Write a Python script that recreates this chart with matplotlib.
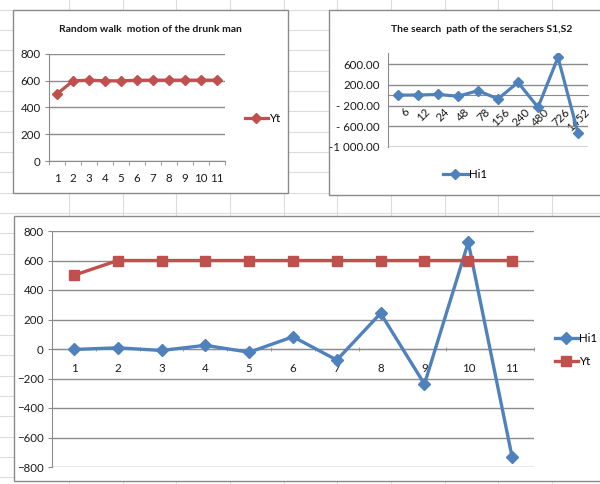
import matplotlib
matplotlib.use("Agg")
import matplotlib.pyplot as plt
import matplotlib.transforms as mtransforms
from matplotlib.lines import Line2D
from matplotlib.patches import Rectangle
from matplotlib.ticker import FixedLocator, NullFormatter

plt.rcParams['font.family'] = ['Lato', 'DejaVu Sans']

# ---- data ----
steps = list(range(1, 12))
yt_walk = [500, 597, 603, 598, 598, 602, 603, 603, 603, 603, 603]
search_labels = ["6", "12", "24", "48", "78", "156", "240", "480", "726", "1452"]
search_hi1 = [2, 3, 15, -20, 88, -72, 250, -235, 735, -735]
hi1 = [-3, 8, -10, 25, -22, 83, -75, 242, -238, 723, -732]
yt = [500, 600, 600, 600, 600, 600, 600, 600, 600, 600, 600]

W, H = 600, 484
BLUE = "#4f81bd"
RED = "#c0504d"
GRID = "#8c8c8c"
TXT = "#1a1a1a"
FS = 8.3

fig = plt.figure(figsize=(W / 100, H / 100), dpi=100)
fig.patch.set_facecolor("white")


def fx(x):
    return x / W


def fy(y):
    return 1 - y / H


def px_axes(left, top, right, bottom):
    return fig.add_axes([fx(left), fy(bottom), (right - left) / W, (bottom - top) / H])


# spreadsheet cell grid behind the charts
for x in [69, 122.5, 176, 230, 283.5, 337, 391, 444.5, 498, 552]:
    fig.add_artist(Line2D([fx(x), fx(x)], [0, 1], color="#dcdcdc", lw=0.8, zorder=0))
for y in [9.5, 30, 50.3, 70.6, 91, 111.3, 131.6, 152, 172.3, 192.6, 213, 233.3,
          253.6, 274, 294.3, 314.6, 335, 355.3, 375.6, 396, 416.3, 436.6, 457, 477.3]:
    fig.add_artist(Line2D([0, 1], [fy(y), fy(y)], color="#dcdcdc", lw=0.8, zorder=0))

# chart frames
for (l, t, r, b) in [(13, 10, 287.5, 193.5), (329, 10, 603, 195), (13.5, 215.5, 603, 481)]:
    fig.add_artist(Rectangle((fx(l), fy(b)), (r - l) / W, (b - t) / H,
                             transform=fig.transFigure, facecolor="white",
                             edgecolor="#8a8a8a", lw=1.0, zorder=1))


def style_axes(ax):
    ax.set_facecolor("none")
    ax.set_zorder(2)
    for s in ["top", "right"]:
        ax.spines[s].set_visible(False)
    ax.spines["left"].set_color(GRID)
    ax.spines["bottom"].set_color(GRID)
    ax.tick_params(axis="both", colors=GRID, labelcolor=TXT, labelsize=FS)


# ---- top-left: random walk ----
ax1 = px_axes(49, 53.7, 225, 161)
style_axes(ax1)
ax1.plot(steps, yt_walk, color=RED, lw=2.3, marker="D", ms=5.5, zorder=3, label="Yt")
ax1.set_xlim(0.5, 11.5)
ax1.set_ylim(0, 800)
ax1.set_yticks([0, 200, 400, 600, 800])
ax1.yaxis.grid(True, color=GRID, lw=1.0)
ax1.set_axisbelow(True)
ax1.set_xticks(steps)
ax1.set_xticklabels([str(s) for s in steps])
ax1.xaxis.set_minor_locator(FixedLocator([i + 0.5 for i in range(0, 12)]))
ax1.xaxis.set_minor_formatter(NullFormatter())
ax1.tick_params(axis="x", which="major", length=0, pad=9)
ax1.tick_params(axis="x", which="minor", length=3, color=GRID)
ax1.tick_params(axis="y", length=3, pad=3)
fig.text(fx(150), fy(29), "Random walk  motion of the drunk man", ha="center", va="center",
         fontsize=7.5, fontweight="bold", color=TXT)
ax1.legend(loc="center left", bbox_to_anchor=(fx(239), fy(119)), bbox_transform=fig.transFigure,
           frameon=False, fontsize=FS, handlelength=2.0, handletextpad=0.1, borderpad=0)

# ---- top-right: search path ----
ax2 = px_axes(388, 53, 588, 146.7)
style_axes(ax2)
xs2 = list(range(1, len(search_labels) + 1))
ax2.plot(xs2, search_hi1, color=BLUE, lw=2.3, marker="D", ms=5.5, zorder=3, label="Hi1")
ax2.set_xlim(0.5, 10.5)
ax2.set_ylim(-1000, 820)
ax2.set_yticks([600, 200, -200, -600, -1000])
ax2.set_yticklabels(["600.00", "200.00", "- 200.00", "- 600.00", "-1 000.00"])
ax2.yaxis.grid(True, color=GRID, lw=1.0)
ax2.set_axisbelow(True)
ax2.spines["bottom"].set_position(("data", 0))
ax2.set_xticks(xs2)
ax2.set_xticklabels(search_labels, rotation=45, ha="right", va="top", rotation_mode="anchor")
ax2.tick_params(axis="x", length=0, pad=8)
ax2.tick_params(axis="y", length=0, pad=6)
shift = mtransforms.ScaledTranslation(6 / 100, 0, fig.dpi_scale_trans)
for lbl in ax2.get_xticklabels():
    lbl.set_transform(lbl.get_transform() + shift)
ax2.axhline(-1000, color=GRID, lw=1.0, zorder=1)
fig.text(fx(482), fy(30), "The search  path of the serachers S1,S2", ha="center", va="center",
         fontsize=7.5, fontweight="bold", color=TXT)
ax2.legend(loc="center", bbox_to_anchor=(fx(465), fy(175)), bbox_transform=fig.transFigure,
           frameon=False, fontsize=FS, handlelength=2.2, handletextpad=0.1, borderpad=0)

# ---- bottom: combined ----
ax3 = px_axes(52, 231, 534, 467)
style_axes(ax3)
ax3.plot(steps, hi1, color=BLUE, lw=2.4, marker="D", ms=6.5, zorder=3, label="Hi1")
ax3.plot(steps, yt, color=RED, lw=2.4, marker="s", ms=7, zorder=3, label="Yt")
ax3.set_xlim(0.5, 11.5)
ax3.set_ylim(-800, 800)
ax3.set_yticks(list(range(-800, 801, 200)))
ax3.yaxis.grid(True, color=GRID, lw=1.0)
ax3.set_axisbelow(True)
ax3.spines["bottom"].set_position(("data", 0))
ax3.set_xticks(steps)
ax3.set_xticklabels([str(s) for s in steps])
ax3.xaxis.set_minor_locator(FixedLocator([i + 0.5 for i in range(0, 12)]))
ax3.xaxis.set_minor_formatter(NullFormatter())
ax3.tick_params(axis="x", which="major", length=0, pad=10)
ax3.tick_params(axis="x", which="minor", length=3, direction="inout", color=GRID)
ax3.tick_params(axis="y", length=3, pad=3)
ax3.legend(loc="center left", bbox_to_anchor=(fx(549), fy(350)), bbox_transform=fig.transFigure,
           frameon=False, fontsize=FS, handlelength=2.0, handletextpad=0.1, borderpad=0,
           labelspacing=1.0)

fig.savefig("out.png", dpi=100)
